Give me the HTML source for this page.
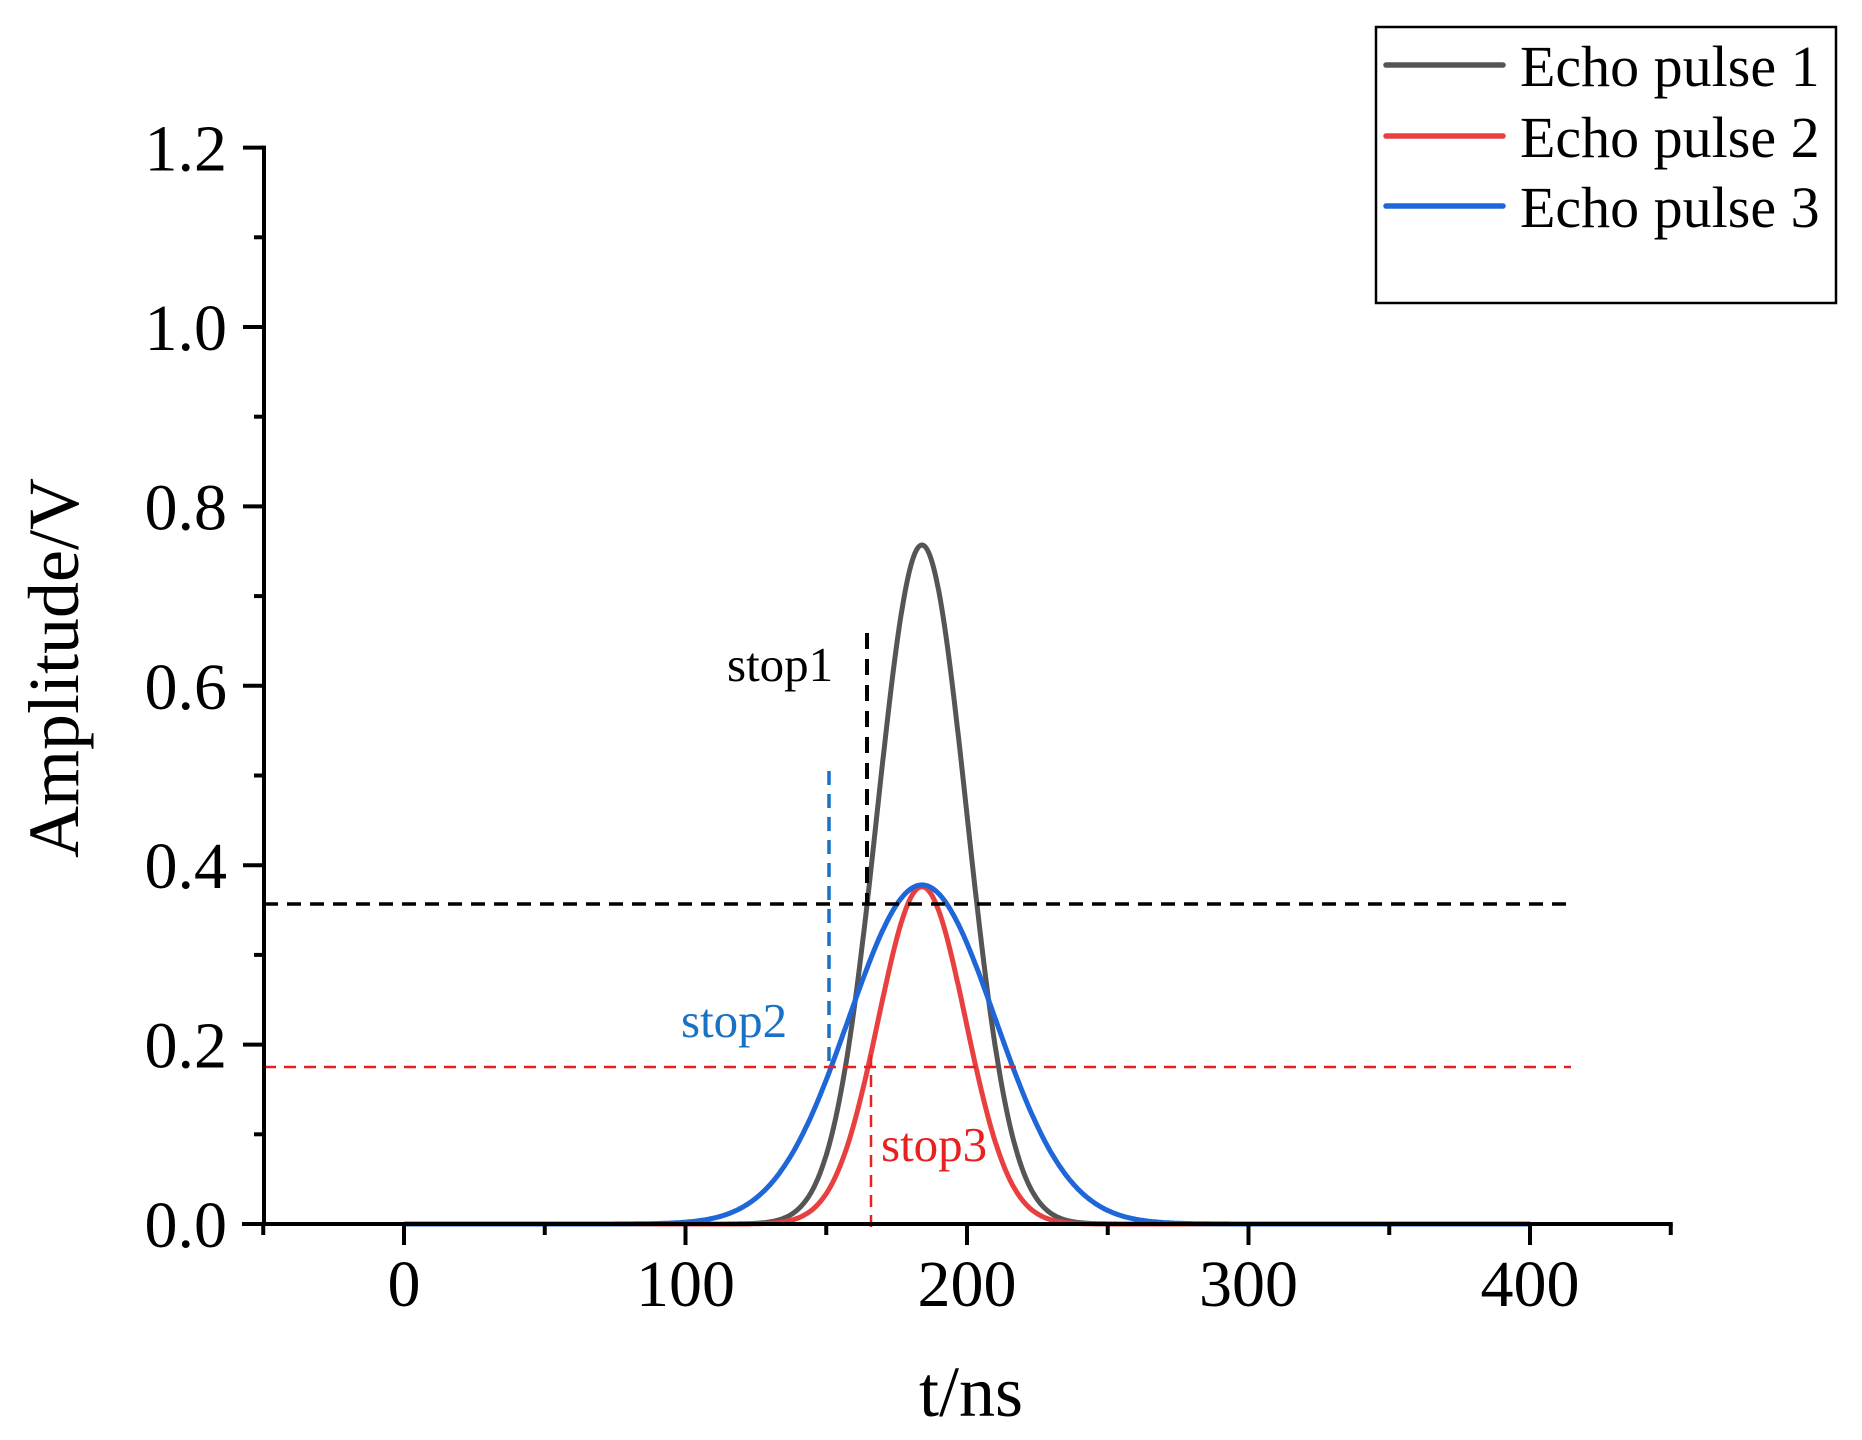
<!DOCTYPE html>
<html><head><meta charset="utf-8"><style>
html,body{margin:0;padding:0;background:#fff;}
svg{display:block;font-family:"Liberation Serif",serif;}
</style></head><body>
<svg id="s" width="1862" height="1440" xmlns="http://www.w3.org/2000/svg">
<rect width="1862" height="1440" fill="#fff"/>
<g id="curves" fill="none" stroke-width="5" stroke-linejoin="round"></g>
<line x1="264" y1="904" x2="1571" y2="904" stroke="#000" stroke-width="3.5" stroke-dasharray="14,9"/>
<line x1="264" y1="1067" x2="1571" y2="1067" stroke="#e82020" stroke-width="2.5" stroke-dasharray="12,8"/>
<line x1="867" y1="633" x2="867" y2="904" stroke="#000" stroke-width="4" stroke-dasharray="16,10"/>
<line x1="829" y1="771" x2="829" y2="1061" stroke="#1a72c4" stroke-width="3.5" stroke-dasharray="14,9"/>
<line x1="871" y1="1055" x2="871" y2="1229" stroke="#e82020" stroke-width="2.5" stroke-dasharray="12,8"/>
<text x="727" y="681" font-size="49" fill="#000">stop1</text>
<text x="681" y="1037" font-size="49" fill="#1a72c4">stop2</text>
<text x="881" y="1161" font-size="49" fill="#e82020">stop3</text>
<g id="axes" stroke="#000" stroke-width="4"></g>
<g id="labels" font-size="66" fill="#000"></g>
<text x="971" y="1416" font-size="72" text-anchor="middle">t/ns</text>
<text transform="translate(78,668) rotate(-90)" font-size="72" text-anchor="middle">Amplitude/V</text>
<rect x="1376" y="27" width="460" height="276" fill="none" stroke="#000" stroke-width="2.5"/>
<line x1="1386" y1="65" x2="1503" y2="65" stroke="#555" stroke-width="5.5" stroke-linecap="round"/>
<line x1="1386" y1="136" x2="1503" y2="136" stroke="#e84040" stroke-width="5.5" stroke-linecap="round"/>
<line x1="1386" y1="206" x2="1503" y2="206" stroke="#1f66d8" stroke-width="5.5" stroke-linecap="round"/>
<text x="1520" y="86" font-size="58">Echo pulse 1</text>
<text x="1520" y="157" font-size="58">Echo pulse 2</text>
<text x="1520" y="227" font-size="58">Echo pulse 3</text>
</svg>
<script>
var X0=404,PX=2.815,Y0=1224,PY=897;
function X(t){return X0+t*PX;} function Y(v){return Y0-v*PY;}
var NS="http://www.w3.org/2000/svg";
function el(p,n,a){var e=document.createElementNS(NS,n);for(var k in a)e.setAttribute(k,a[k]);p.appendChild(e);return e;}
var cg=document.getElementById('curves');
function curve(A,mu,sig,col){var d="";for(var t=0;t<=400;t+=0.5){var v=A*Math.exp(-Math.pow(t-mu,2)/(2*sig*sig));d+=(t==0?"M":"L")+X(t).toFixed(1)+","+Y(v).toFixed(1);}el(cg,"path",{d:d,stroke:col});}
curve(0.757,184,15.9,"#555");
curve(0.376,184,15.5,"#e84040");
curve(0.378,184,26,"#1f66d8");
var ag=document.getElementById('axes'),lg=document.getElementById('labels');
el(ag,"line",{x1:264,y1:Y(1.2)-2,x2:264,y2:Y0+2});
el(ag,"line",{x1:242,y1:Y0,x2:X(450)+2,y2:Y0});
for(var i=0;i<=12;i++){var y=Y(i*0.1);var maj=i%2==0;el(ag,"line",{x1:maj?243:254,y1:y,x2:264,y2:y});
 if(maj){var t=el(lg,"text",{x:227,y:y+23,"text-anchor":"end"});t.textContent=(i/10).toFixed(1);}}
for(var t=-50;t<=450;t+=50){var x=X(t);var maj=t%100==0;el(ag,"line",{x1:x,y1:Y0,x2:x,y2:maj?Y0+21:Y0+11});
 if(maj){var e=el(lg,"text",{x:x,y:Y0+82,"text-anchor":"middle"});e.textContent=t;}}
</script>
</body></html>
